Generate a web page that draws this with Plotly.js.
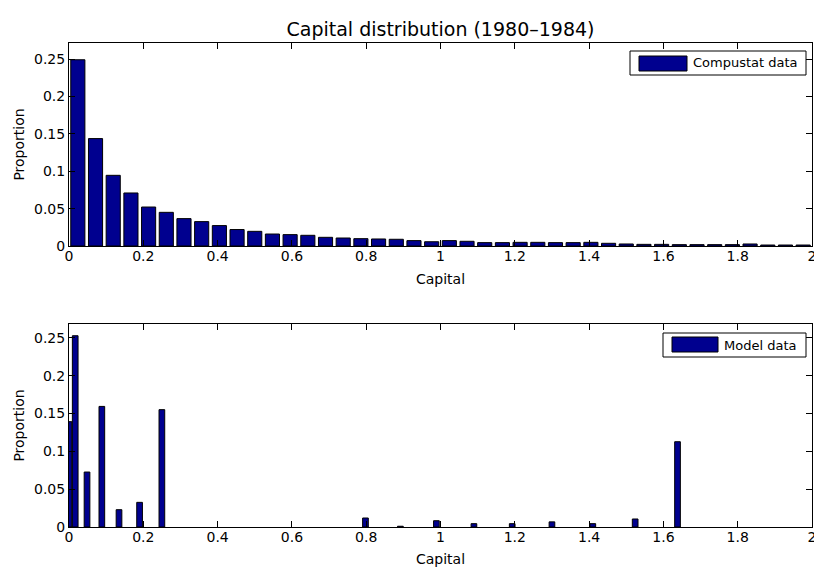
<!DOCTYPE html>
<html>
<head>
<meta charset="utf-8">
<script src="https://cdn.plot.ly/plotly-3.0.1.min.js"></script>
<style>
  html, body { margin: 0; padding: 0; background: #fff; }
  #chart { width: 814px; height: 567px; }
</style>
</head>
<body>
<div id="chart"></div>
<script>
// Histogram of firm capital, Compustat sample (42 equal bins on [0, 2])
const compustatCapital = [
  0.0238, 0.0714, 0.1190, 0.1667, 0.2143, 0.2619, 0.3095, 0.3571, 0.4048, 0.4524,
  0.5000, 0.5476, 0.5952, 0.6429, 0.6905, 0.7381, 0.7857, 0.8333, 0.8810, 0.9286,
  0.9762, 1.0238, 1.0714, 1.1190, 1.1667, 1.2143, 1.2619, 1.3095, 1.3571, 1.4048,
  1.4524, 1.5000, 1.5476, 1.5952, 1.6429, 1.6905, 1.7381, 1.7857, 1.8333, 1.8810,
  1.9286, 1.9762
];
const compustatShare = [
  0.249, 0.1436, 0.0945, 0.0709, 0.0521, 0.045, 0.0366, 0.0326, 0.0273, 0.022,
  0.0196, 0.016, 0.0152, 0.0143, 0.0116, 0.0107, 0.0098, 0.0094, 0.009, 0.0072,
  0.0057, 0.0072, 0.0063, 0.0045, 0.0045, 0.0049, 0.0049, 0.0045, 0.0045, 0.0049,
  0.0036, 0.0027, 0.0022, 0.0022, 0.0018, 0.0018, 0.0018, 0.0018, 0.0027, 0.0013,
  0.0013, 0.0013
];

// Simulated firms: mass on the model's capital grid points
const modelCapital = [
  0.0, 0.0167, 0.0485, 0.0884, 0.1346, 0.190, 0.250, 0.798,
  0.892, 0.989, 1.090, 1.193, 1.300, 1.410, 1.524, 1.638
];
const modelShare = [
  0.1393, 0.253, 0.0727, 0.1595, 0.0229, 0.0326, 0.1552, 0.0119,
  0.001, 0.0083, 0.0044, 0.0044, 0.0068, 0.0044, 0.0106, 0.1128
];

const seriesNames = ['Compustat data', 'Model data'];
const chartTitle = 'Capital distribution (1980\u20131984)';
const xLabel = 'Capital';
const yLabel = 'Proportion';
const xTicks = [0, 0.2, 0.4, 0.6, 0.8, 1, 1.2, 1.4, 1.6, 1.8, 2];
const yTicks = [0, 0.05, 0.1, 0.15, 0.2, 0.25];

const FONT = 'DejaVu Sans, sans-serif';
const BAR_FILL = 'rgb(0,0,143)';
const TICK_SIZE = 14;

// figure geometry in pixels
const W = 814, H = 567;
const M = { l: 69, r: 2, t: 43, b: 40 };
const plotW = W - M.l - M.r;
const plotH = H - M.t - M.b;
const px2x = (px) => (px - M.l) / plotW;
const py2y = (py) => (H - M.b - py) / plotH;

const traces = [
  {
    type: 'bar', x: compustatCapital, y: compustatShare, width: 0.038,
    xaxis: 'x', yaxis: 'y', name: seriesNames[0], showlegend: false,
    marker: { color: BAR_FILL, line: { color: '#000', width: 1 } },
    hoverinfo: 'x+y'
  },
  {
    type: 'bar', x: modelCapital, y: modelShare, width: 0.0153,
    xaxis: 'x2', yaxis: 'y2', name: seriesNames[1], showlegend: false,
    marker: { color: BAR_FILL, line: { color: '#000', width: 1 } },
    hoverinfo: 'x+y'
  }
];

function xAxis(anchor) {
  return {
    anchor: anchor, range: [0, 2], tickvals: xTicks,
    ticks: 'inside', ticklen: 6, tickcolor: '#000', tickwidth: 1,
    showline: true, linecolor: '#000', linewidth: 1, mirror: 'ticks',
    showgrid: false, zeroline: false, automargin: false,
    ticklabeloverflow: 'allow', ticklabelstandoff: -3,
    tickfont: { family: FONT, size: TICK_SIZE, color: '#000' },
    title: { text: xLabel, font: { family: FONT, size: TICK_SIZE, color: '#000' }, standoff: 11 }
  };
}
function yAxis(anchor, domain, top) {
  return {
    anchor: anchor, domain: domain, range: [0, top], tickvals: yTicks,
    ticks: 'inside', ticklen: 6, tickcolor: '#000', tickwidth: 1,
    showline: true, linecolor: '#000', linewidth: 1, mirror: 'ticks',
    showgrid: false, zeroline: false, automargin: false,
    ticklabeloverflow: 'allow',
    tickfont: { family: FONT, size: TICK_SIZE, color: '#000' },
    title: { text: yLabel, font: { family: FONT, size: TICK_SIZE, color: '#000' }, standoff: 6 }
  };
}

// hand-drawn boxed legends (long swatch, as in the plotting package's style)
const legends = [
  { box: [630, 51, 806, 75], swatch: [639, 56, 687, 71], textX: 691, textY: 63, name: seriesNames[0] },
  { box: [663, 333, 806, 357], swatch: [672, 337, 718, 352], textX: 722, textY: 345, name: seriesNames[1] }
];
const shapes = [];
const annotations = [];
legends.forEach((lg) => {
  shapes.push({
    type: 'rect', xref: 'paper', yref: 'paper',
    x0: px2x(lg.box[0]), x1: px2x(lg.box[2]), y0: py2y(lg.box[3]), y1: py2y(lg.box[1]),
    fillcolor: '#fff', line: { color: '#000', width: 1 }, layer: 'above'
  });
  shapes.push({
    type: 'rect', xref: 'paper', yref: 'paper',
    x0: px2x(lg.swatch[0]), x1: px2x(lg.swatch[2]), y0: py2y(lg.swatch[3]), y1: py2y(lg.swatch[1]),
    fillcolor: BAR_FILL, line: { color: '#000', width: 1 }, layer: 'above'
  });
  annotations.push({
    xref: 'paper', yref: 'paper', x: px2x(lg.textX), y: py2y(lg.textY),
    xanchor: 'left', yanchor: 'middle', showarrow: false, text: lg.name,
    font: { family: FONT, size: 13, color: '#000' }
  });
});

const layout = {
  width: W, height: H, margin: M,
  paper_bgcolor: '#fff', plot_bgcolor: '#fff',
  showlegend: false, bargap: 0,
  font: { family: FONT, color: '#000' },
  title: {
    text: chartTitle, font: { family: FONT, size: 19, color: '#000' },
    x: 0.5, xref: 'paper', y: 1 - 29.5 / H, yref: 'container', yanchor: 'middle'
  },
  xaxis: xAxis('y'),
  yaxis: yAxis('x', [py2y(246), 1], 0.2714),
  xaxis2: xAxis('y2'),
  yaxis2: yAxis('x2', [0, py2y(324)], 0.2685),
  shapes: shapes,
  annotations: annotations
};

Plotly.newPlot('chart', traces, layout, { displayModeBar: false, staticPlot: true });
</script>
</body>
</html>
